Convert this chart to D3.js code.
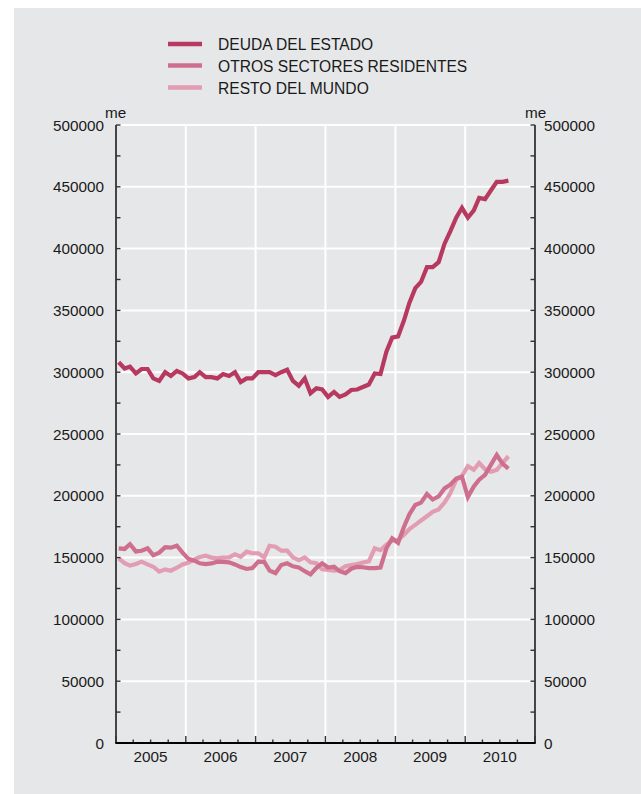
<!DOCTYPE html>
<html>
<head>
<meta charset="utf-8">
<script src="https://cdn.jsdelivr.net/npm/d3@7"></script>
<style>
  html, body { margin: 0; padding: 0; background: #ffffff; }
  svg { display: block; }
  text { font-family: "Liberation Sans", Arial, Helvetica, sans-serif; fill: #1a1a1a; }
</style>
</head>
<body>
<svg id="chart" width="641" height="794"></svg>
<script>
// ---- Data (thousands of euros -> "me"), monthly Jan 2005 .. Aug 2010 ----
const seriesNames = ["DEUDA DEL ESTADO", "OTROS SECTORES RESIDENTES", "RESTO DEL MUNDO"];
const seriesColors = ["#b7395f", "#cf6f8e", "#e29db3"];

const deudaEstado = [
  308000, 303000, 304500, 299000, 302600, 302600, 295000, 293000, 300000, 297000, 301000, 299000,
  295000, 296000, 300000, 296000, 296000, 295000, 298500, 297000, 300000, 292000, 295000, 295000,
  300000, 300000, 300000, 297700, 300000, 302000, 293000, 289000, 295000, 283000, 287000, 286000,
  280000, 284000, 280000, 282000, 285600, 286000, 288000, 290000, 299000, 298500, 316600, 328000,
  329000, 342000, 356000, 368000, 373000, 385000, 385000, 389000, 404000, 414000, 425000, 433000,
  425000, 431000, 441000, 440000, 447000, 454000, 454000, 455000
];
const otrosSectores = [
  157500, 157000, 160800, 155000, 155500, 157500, 152000, 154000, 158500, 158000, 159600, 154000,
  149000, 147500, 145400, 144800, 145300, 146700, 146600, 146200, 144500, 142300, 140800, 141500,
  146700, 146500, 139500, 137500, 144000, 145400, 143000, 142000, 139000, 136500, 141800, 145400,
  142000, 142600, 139000, 137500, 141000, 142500, 142200, 141500, 141500, 142000, 157500, 165600,
  162000, 175000, 185000, 192600, 194500, 201500, 197000, 199500, 206000, 209000, 214000, 215500,
  199000, 207500, 213000, 217000, 225000, 233000, 226000, 222000
];
const restoMundo = [
  149400, 145500, 143500, 144800, 146700, 144500, 142600, 138600, 140500, 139400, 141800, 144500,
  146000, 148500, 150500, 151500, 150000, 149400, 150000, 150200, 152700, 150700, 154800, 153500,
  153500, 150200, 159600, 158800, 155600, 155600, 150200, 148000, 150200, 146200, 145400, 140500,
  140000, 139500, 140000, 143000, 144000, 144800, 146000, 147000, 157500, 156000, 160500, 163700,
  164200, 168500, 173000, 176500, 180000, 183500, 187000, 189000, 194500, 202000, 212800, 216000,
  224000, 221000, 226500, 221500, 219500, 221000, 226500, 232000
];
const yearLabels = ["2005", "2006", "2007", "2008", "2009", "2010"];
const yTicks = [0, 50000, 100000, 150000, 200000, 250000, 300000, 350000, 400000, 450000, 500000];
const unitLabel = "me";
const startYear = 2005;

// ---- Layout ----
const svg = d3.select("#chart");
const L = 116, R = 535, T = 125, B = 743;

svg.append("rect").attr("x", 14).attr("y", 8).attr("width", 627).attr("height", 786)
  .attr("fill", "#e6e7e8");

const x = d3.scaleTime()
  .domain([new Date(startYear, 0, 1), new Date(startYear + yearLabels.length, 0, 1)])
  .range([L, R]);
const y = d3.scaleLinear().domain([0, 500000]).range([B, T]);

const monthDate = i => new Date(startYear, i, 15);

// gridlines
const g = svg.append("g");
g.selectAll("line.h").data(yTicks.filter(d => d > 0)).join("line")
  .attr("x1", L).attr("x2", R).attr("y1", d => y(d)).attr("y2", d => y(d))
  .attr("stroke", "#ffffff").attr("stroke-width", 2);
const yearBounds = d3.range(1, yearLabels.length).map(k => new Date(startYear + k, 0, 1));
g.selectAll("line.v").data(yearBounds).join("line")
  .attr("x1", d => x(d)).attr("x2", d => x(d)).attr("y1", T).attr("y2", B)
  .attr("stroke", "#ffffff").attr("stroke-width", 2);

// series lines
const line = d3.line().x((d, i) => x(monthDate(i))).y(d => y(d)).curve(d3.curveLinear);
const allSeries = [deudaEstado, otrosSectores, restoMundo];
[2, 1, 0].forEach(k => {
  svg.append("path").datum(allSeries[k])
    .attr("d", line)
    .attr("fill", "none")
    .attr("stroke", seriesColors[k])
    .attr("stroke-width", 4.2)
    .attr("stroke-linejoin", "miter")
    .attr("stroke-miterlimit", 3);
});

// minor ticks values
const yMinor = d3.range(25000, 500000, 50000);

// left axis
const leftAxis = svg.append("g");
leftAxis.append("line").attr("x1", L).attr("x2", L).attr("y1", T).attr("y2", B)
  .attr("stroke", "#000").attr("stroke-width", 1.4);
leftAxis.selectAll("line.t").data(yTicks.concat(yMinor)).join("line")
  .attr("x1", L).attr("x2", L + 4.5).attr("y1", d => y(d)).attr("y2", d => y(d))
  .attr("stroke", "#333").attr("stroke-width", 1.4);
leftAxis.selectAll("text").data(yTicks).join("text")
  .attr("x", 104).attr("y", d => y(d) + 5.5)
  .attr("text-anchor", "end").attr("font-size", 15.3)
  .text(d => d3.format("d")(d));

// right axis
const rightAxis = svg.append("g");
rightAxis.append("line").attr("x1", R).attr("x2", R).attr("y1", T).attr("y2", B)
  .attr("stroke", "#000").attr("stroke-width", 1.4);
rightAxis.selectAll("line.t").data(yTicks.concat(yMinor)).join("line")
  .attr("x1", R - 4.5).attr("x2", R).attr("y1", d => y(d)).attr("y2", d => y(d))
  .attr("stroke", "#333").attr("stroke-width", 1.4);
rightAxis.selectAll("text").data(yTicks).join("text")
  .attr("x", 544).attr("y", d => y(d) + 5.5)
  .attr("text-anchor", "start").attr("font-size", 15.3)
  .text(d => d3.format("d")(d));

// unit labels
svg.append("text").attr("x", 105).attr("y", 118).attr("font-size", 15.3).text(unitLabel);
svg.append("text").attr("x", 525).attr("y", 118).attr("font-size", 15.3).text(unitLabel);

// bottom axis
const bottom = svg.append("g");
const quarterTicks = d3.range(0, yearLabels.length * 4 + 1).map(q => new Date(startYear, q * 3, 1));
bottom.selectAll("line.t").data(quarterTicks).join("line")
  .attr("x1", d => x(d)).attr("x2", d => x(d))
  .attr("y1", B).attr("y2", d => B - (d.getMonth() === 0 ? 7 : 3.5))
  .attr("stroke", "#333").attr("stroke-width", 1.4);
bottom.append("line").attr("x1", L - 0.7).attr("x2", R + 0.7).attr("y1", B).attr("y2", B)
  .attr("stroke", "#000").attr("stroke-width", 2);
bottom.selectAll("text").data(yearLabels).join("text")
  .attr("x", (d, k) => x(new Date(startYear + k, 6, 1)))
  .attr("y", 762)
  .attr("text-anchor", "middle").attr("font-size", 15.3)
  .text(d => d);

// legend
const legend = svg.append("g");
const legendY = [44, 65.5, 87.5];
seriesNames.forEach((name, k) => {
  legend.append("line").attr("x1", 168).attr("x2", 202)
    .attr("y1", legendY[k]).attr("y2", legendY[k])
    .attr("stroke", seriesColors[k]).attr("stroke-width", 4.5);
  legend.append("text").attr("x", 218).attr("y", legendY[k] + 6)
    .attr("font-size", 15.6).text(name);
});
</script>
</body>
</html>
